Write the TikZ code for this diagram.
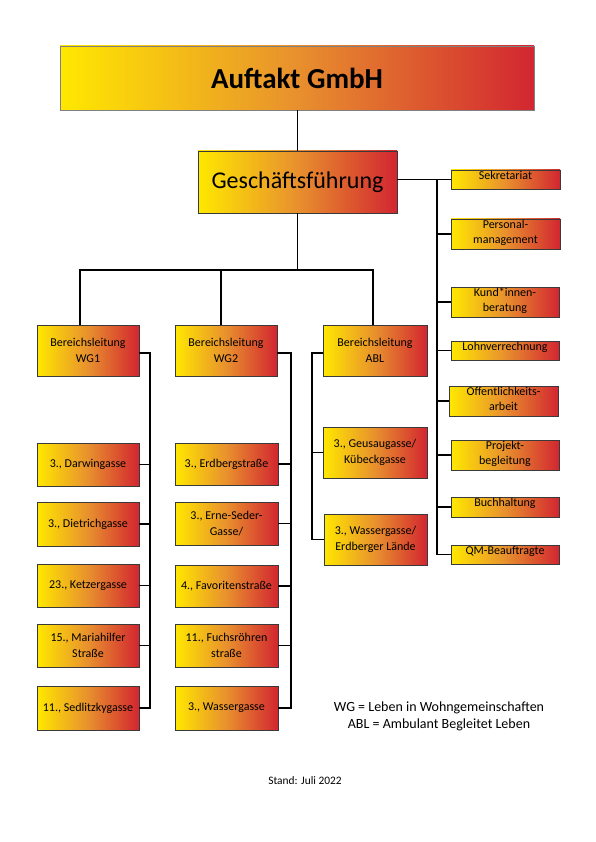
\documentclass[tikz,border=0pt]{standalone}
\usepackage{fontspec}
\setmainfont{Carlito}
\definecolor{gy}{HTML}{FFE800}
\definecolor{go}{HTML}{E8902E}
\definecolor{gr}{HTML}{D22630}
\definecolor{bd}{HTML}{3A3A3A}
\tikzset{
  grad/.style={shade, left color=gy, right color=gr, middle color=go, draw=bd,
    line width=0.7pt, inner sep=1pt, align=center, text=black,
    font=\fontsize{12}{15.5}\selectfont},
  sidetext/.style={anchor=north, inner sep=0pt, yshift=-1.5pt, align=center,
    font=\fontsize{12}{15}\selectfont},
  conn/.style={draw=black, line width=1.3pt},
  legend/.style={align=center, font=\fontsize{14}{17}\selectfont},
}
% #1 opts, #2 name, #3 x1, #4 y1, #5 x2, #6 y2, #7 text
\newcommand\orgbox[7][]{%
  \node[grad, minimum width={(#5-#3)*1pt}, minimum height={(#6-#4)*1pt}, #1]
    (#2) at ({(#3+#5)/2},{(#4+#6)/2}) {#7};}
% #1 name, #2 x1, #3 y1, #4 x2, #5 y2, #6 text
\newcommand\sidebox[6]{%
  \node[grad, minimum width={(#4-#2)*1pt}, minimum height={(#5-#3)*1pt},
    label={[sidetext]north:{#6}}]
    (#1) at ({(#2+#4)/2},{(#3+#5)/2}) {};}
\begin{document}
\begin{tikzpicture}[x=1pt,y=-1pt]
\useasboundingbox[fill=white] (0,0) rectangle (596,842);

% top
\orgbox[draw=gray, font=\fontsize{29}{33}\selectfont\bfseries]{title}{60}{46}{534}{110}{Auftakt GmbH}
\orgbox[font=\fontsize{24}{28}\selectfont]{gf}{198}{151}{397}{213}{Geschäftsführung}

% Bereichsleitungen
\orgbox{bl1}{37}{325}{139}{376}{Bereichsleitung\\WG1}
\orgbox{bl2}{175}{325}{277}{376}{Bereichsleitung\\WG2}
\orgbox{bl3}{323}{325}{427}{376}{Bereichsleitung\\ABL}

% WG1
\orgbox{a1}{37}{443}{139}{486}{3., Darwingasse}
\orgbox{a2}{37}{502}{139}{546}{3., Dietrichgasse}
\orgbox{a3}{37}{564}{139}{607}{23., Ketzergasse}
\orgbox{a4}{37}{624}{139}{667}{15., Mariahilfer\\Straße}
\orgbox{a5}{37}{686}{139}{730}{11., Sedlitzkygasse}

% WG2
\orgbox{b1}{175}{443}{278}{485}{3., Erdbergstraße}
\orgbox{b2}{175}{502}{278}{545}{3., Erne-Seder-\\Gasse/}
\orgbox{b3}{175}{565}{278}{607}{4., Favoritenstraße}
\orgbox{b4}{175}{624}{278}{667}{11., Fuchsröhren\\straße}
\orgbox{b5}{175}{686}{278}{730}{3., Wassergasse}

% ABL
\orgbox{c1}{323}{427}{427}{478}{3., Geusaugasse/\\Kübeckgasse}
\orgbox{c2}{324}{514}{427}{565}{3., Wassergasse/\\Erdberger Lände}

% staff units
\sidebox{s1}{451}{170}{560}{189}{Sekretariat}
\sidebox{s2}{451}{219}{560}{249}{Personal-\\management}
\sidebox{s3}{451}{287}{559}{317}{Kund*innen-\\beratung}
\sidebox{s4}{451}{341}{559}{360}{Lohnverrechnung}
\sidebox{s5}{449}{386}{558}{416}{Offentlichkeits-\\arbeit}
\sidebox{s6}{451}{440}{559}{470}{Projekt-\\begleitung}
\sidebox{s7}{451}{497}{559}{517}{Buchhaltung}
\sidebox{s8}{451}{545}{559}{564}{QM-Beauftragte}

% connectors top
\coordinate (bar) at (297.5,270);
\coordinate (d1) at (80,270);
\coordinate (d2) at (221,270);
\coordinate (d3) at (373,270);
\draw[conn] (gf.north |- title.south) -- (gf.north);
\draw[conn] (gf.south) -- (bar);
\draw[conn] (d1 |- bl1.north) -- (d1) -- (d3) -- (d3 |- bl3.north);
\draw[conn] (d2) -- (d2 |- bl2.north);

% staff trunk
\coordinate (rt) at (437,179.5);
\draw[conn] (gf.east |- s1.west) -- (s1.west);
\draw[conn] (rt) |- (s8.west);
\foreach \s in {s2,s3,s4,s5,s6,s7}{\draw[conn] (rt |- \s.west) -- (\s.west);}

% WG1 trunk
\coordinate (t1) at (150,353);
\draw[conn] (bl1.east |- t1) -- (t1) |- (a5.east);
\foreach \s in {a1,a2,a3,a4}{\draw[conn] (\s.east) -- (t1 |- \s.east);}

% WG2 trunk
\coordinate (t2) at (291,353);
\draw[conn] (bl2.east |- t2) -- (t2) |- (b5.east);
\foreach \s in {b1,b2,b3,b4}{\draw[conn] (\s.east) -- (t2 |- \s.east);}

% ABL trunk
\coordinate (t3) at (312,353);
\draw[conn] (bl3.west |- t3) -- (t3) |- (c2.west);
\draw[conn] (c1.west) -- (t3 |- c1.west);

% legend and footer
\node[legend] (leg) at (439,716) {WG = Leben in Wohngemeinschaften\\ABL = Ambulant Begleitet Leben};
\node[font=\fontsize{11.4}{13}\selectfont] (stand) at (305,781) {Stand: Juli 2022};
\end{tikzpicture}
\end{document}
